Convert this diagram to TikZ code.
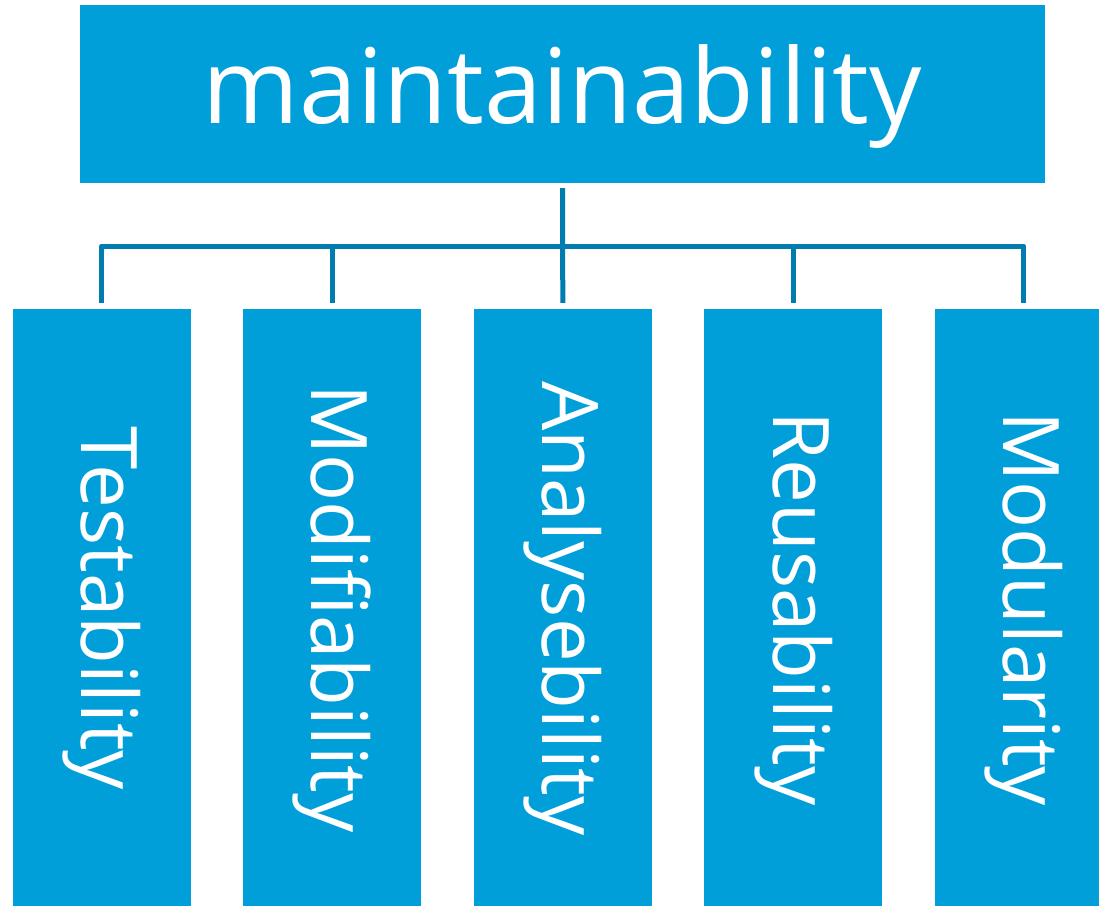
\documentclass[tikz,border=0pt]{standalone}
\usepackage{fontspec}
\setmainfont{Open Sans}
\definecolor{boxblue}{HTML}{009FDA}
\definecolor{lineblue}{HTML}{007DAE}
\begin{document}
\begin{tikzpicture}[x=1pt,y=-1pt,
  topbox/.style={fill=boxblue, text=white, inner sep=0pt, minimum width=965pt, minimum height=178pt,
    font=\fontsize{104}{110}\selectfont},
  subbox/.style={fill=boxblue, inner sep=0pt, minimum width=178pt, minimum height=597pt},
  sublabel/.style={text=white, rotate=-90, inner sep=0pt, font=\fontsize{78}{80}\selectfont},
  conn/.style={draw=lineblue, line width=5pt, line join=round}]
\useasboundingbox (0,0) rectangle (1099,906);
\node[topbox] (top) at (562.5,94) {};
\node[text=white, inner sep=0pt, font=\fontsize{104}{110}\selectfont] (toplabel) at (562.5,96) {maintainability};
\foreach \i/\x/\t in {1/101.8/Testability,2/332.3/Modifiability,3/562.8/Analysebility,4/793.3/Reusability,5/1023.8/Modularity}{
  \node[subbox] (b\i) at (\x,607.5) {};
  \node[sublabel] (l\i) at (\x,608.5) {\t};
  \coordinate (e\i) at ([yshift=6pt]b\i.north);
}
\coordinate (hub) at (562.8,246);
\draw[conn] ([yshift=-5pt]top.south) -- (e3);
\draw[conn] (e1) |- (hub) -| (e5);
\draw[conn] (e2) -- (e2 |- hub);
\draw[conn] (e4) -- (e4 |- hub);
\end{tikzpicture}
\end{document}
